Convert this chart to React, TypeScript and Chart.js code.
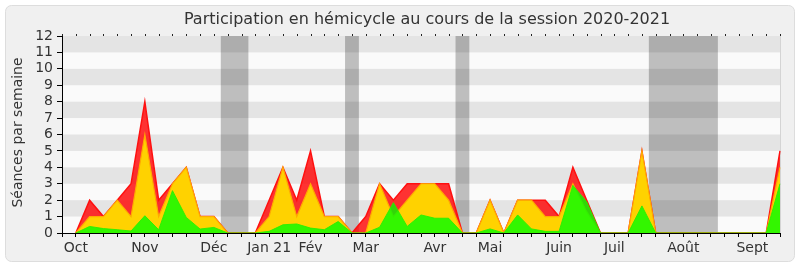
import React, { useEffect, useRef } from "react";
import { Chart, registerables } from "chart.js";

Chart.register(...registerables);

const FONT = '"DejaVu Sans", sans-serif';

const weekLabels = [
  "", "Oct", "", "", "", "", "Nov", "", "", "", "", "Déc", "", "", "", "Jan 21", "", "", "Fév", "", "", "", "Mar", "", "", "", "", "Avr", "", "", "", "Mai", "", "", "", "", "Juin", "", "", "", "Juil", "", "", "", "", "Août", "", "", "", "", "Sept", "", "",
];

const redValues = [
  null, 0, 2, 1, 2, 3, 8, 2, 3, 4, 1, 1, 0, 0, 0, 2, 4, 2, 5, 1, 1, 0, 1, 3, 2, 3, 3, 3, 3, 0, 0, 2, 0, 2, 2, 2, 1, 4, 2, 0, 0, 0, 5, 0, 0, 0, 0, 0, 0, 0, 0, 0, 5,
];

const yellowValues = [
  null, 0, 1, 1, 2, 1, 6, 1, 3, 4, 1, 1, 0, 0, 0, 1, 4, 1, 3, 1, 1, 0, 0, 3, 1, 2, 3, 3, 2, 0, 0, 2, 0, 2, 2, 1, 1, 3, 1.3, 0, 0, 0, 5, 0, 0, 0, 0, 0, 0, 0, 0, 0, 4,
];

const greenValues = [
  null, 0, 0.4, 0.27, 0.2, 0.12, 1.05, 0.2, 2.58, 0.95, 0.24, 0.34, 0, 0, 0, 0.1, 0.5, 0.55, 0.3, 0.2, 0.7, 0, 0, 0.35, 1.85, 0.4, 1.1, 0.9, 0.9, 0, 0, 0.25, 0, 1.1, 0.25, 0.1, 0.1, 2.9, 1.9, 0, 0, 0, 1.65, 0, 0, 0, 0, 0, 0, 0, 0, 0, 3,
];

// vacation weeks (first and last week index of each break)
const breakStarts = [12, 21, 29, 43];
const breakEnds = [13, 21, 29, 47];

const yTicks = [0, 1, 2, 3, 4, 5, 6, 7, 8, 9, 10, 11, 12];

const TITLE = "Participation en hémicycle au cours de la session 2020-2021";
const Y_TITLE = "Séances par semaine";

const decorPlugin = {
  id: "decor",
  beforeDraw(chart: any) {
    const { ctx, chartArea, scales } = chart;
    const x = scales.x;
    const y = scales.y;
    ctx.save();
    ctx.fillStyle = "#ffffff";
    ctx.fillRect(0, 0, chart.width, chart.height);
    ctx.beginPath();
    ctx.roundRect(5.5, 5.5, 789, 256, 6);
    ctx.fillStyle = "#f0f0f0";
    ctx.fill();
    ctx.strokeStyle = "#dddddd";
    ctx.lineWidth = 1;
    ctx.stroke();

    const L = chartArea.left, R = chartArea.right, T = chartArea.top, B = chartArea.bottom;
    ctx.fillStyle = "#fafafa";
    ctx.fillRect(L, T, R - L, B - T);
    ctx.fillStyle = "#bebebe";
    for (let i = 0; i < breakStarts.length; i++) {
      const x0 = x.getPixelForValue(breakStarts[i] - 0.5);
      const x1 = x.getPixelForValue(breakEnds[i] + 0.5);
      ctx.fillRect(x0, T, x1 - x0, B - T);
    }
    ctx.fillStyle = "rgba(0,0,0,0.085)";
    for (let v = 1; v < yTicks[yTicks.length - 1]; v += 2) {
      const y0 = y.getPixelForValue(v + 1);
      const y1 = y.getPixelForValue(v);
      ctx.fillRect(L, y0, R - L, y1 - y0);
    }
    ctx.fillStyle = "#d4d4d4";
    ctx.fillRect(R, T, 1, B - T);
    ctx.restore();
  },
  afterDraw(chart: any) {
    const { ctx, chartArea, scales } = chart;
    const x = scales.x;
    ctx.save();
    ctx.fillStyle = "#222";
    for (let i = 0; i < weekLabels.length; i++) {
      const px = Math.round(x.getPixelForValue(i));
      ctx.fillRect(px, chartArea.top - 2, 1, 2);
    }
    ctx.fillStyle = "#333";
    ctx.font = "16px " + FONT;
    ctx.textAlign = "center";
    ctx.textBaseline = "middle";
    ctx.fillText(TITLE, 427, 20);
    ctx.translate(18, (chartArea.top + chartArea.bottom) / 2 - 2);
    ctx.rotate(-Math.PI / 2);
    ctx.font = "14px " + FONT;
    ctx.fillText(Y_TITLE, 0, 0);
    ctx.restore();
  },
};

export default function App() {
  const ref = useRef<HTMLCanvasElement | null>(null);
  useEffect(() => {
    if (!ref.current) return;
    const chart = new Chart(ref.current, {
      type: "line",
      data: {
        labels: weekLabels,
        datasets: [
          {
            data: greenValues,
            backgroundColor: "rgba(0,255,0,0.8)",
            borderColor: "rgba(40,240,0,0.9)",
            borderWidth: 1,
            fill: "origin",
            pointRadius: 0,
            tension: 0,
          },
          {
            data: yellowValues,
            backgroundColor: "#ffd200",
            borderColor: "#ffaa00",
            borderWidth: 1.2,
            fill: "origin",
            pointRadius: 0,
            tension: 0,
          },
          {
            data: redValues,
            backgroundColor: "rgba(255,0,0,0.8)",
            borderColor: "#ff1010",
            borderWidth: 1.5,
            fill: "origin",
            pointRadius: 0,
            tension: 0,
          },
        ],
      },
      options: {
        animation: false,
        responsive: false,
        maintainAspectRatio: false,
        devicePixelRatio: 1,
        layout: { padding: { top: 36, right: 20, left: 0, bottom: 0 } },
        plugins: { legend: { display: false }, tooltip: { enabled: false }, title: { display: false } },
        scales: {
          x: {
            type: "category",
            offset: false,
            grid: { display: true, drawOnChartArea: false, tickLength: 4, color: "#000", lineWidth: 1 },
            border: { display: true, color: "#000", width: 1 },
            ticks: {
              autoSkip: false,
              maxRotation: 0,
              minRotation: 0,
              padding: 3,
              color: "#333",
              font: { family: FONT, size: 14 },
            },
            afterFit: (s: any) => {
              s.height = 34;
            },
          },
          y: {
            type: "linear",
            min: 0,
            max: 12,
            afterBuildTicks: (s: any) => {
              s.ticks = yTicks.map((v) => ({ value: v }));
            },
            grid: { display: true, drawOnChartArea: false, tickLength: 5, color: "#000", lineWidth: 1 },
            border: { display: true, color: "#000", width: 1 },
            ticks: {
              autoSkip: false,
              stepSize: 1,
              padding: 4,
              color: "#333",
              font: { family: FONT, size: 14 },
            },
            afterFit: (s: any) => {
              s.width = 62;
            },
          },
        },
      },
      plugins: [decorPlugin],
    } as any);
    return () => chart.destroy();
  }, []);
  return (
    <div style={{ position: "fixed", left: 0, top: 0, width: 800, height: 267 }}>
      <canvas ref={ref} width={800} height={267} style={{ width: 800, height: 267, display: "block" }} />
    </div>
  );
}
